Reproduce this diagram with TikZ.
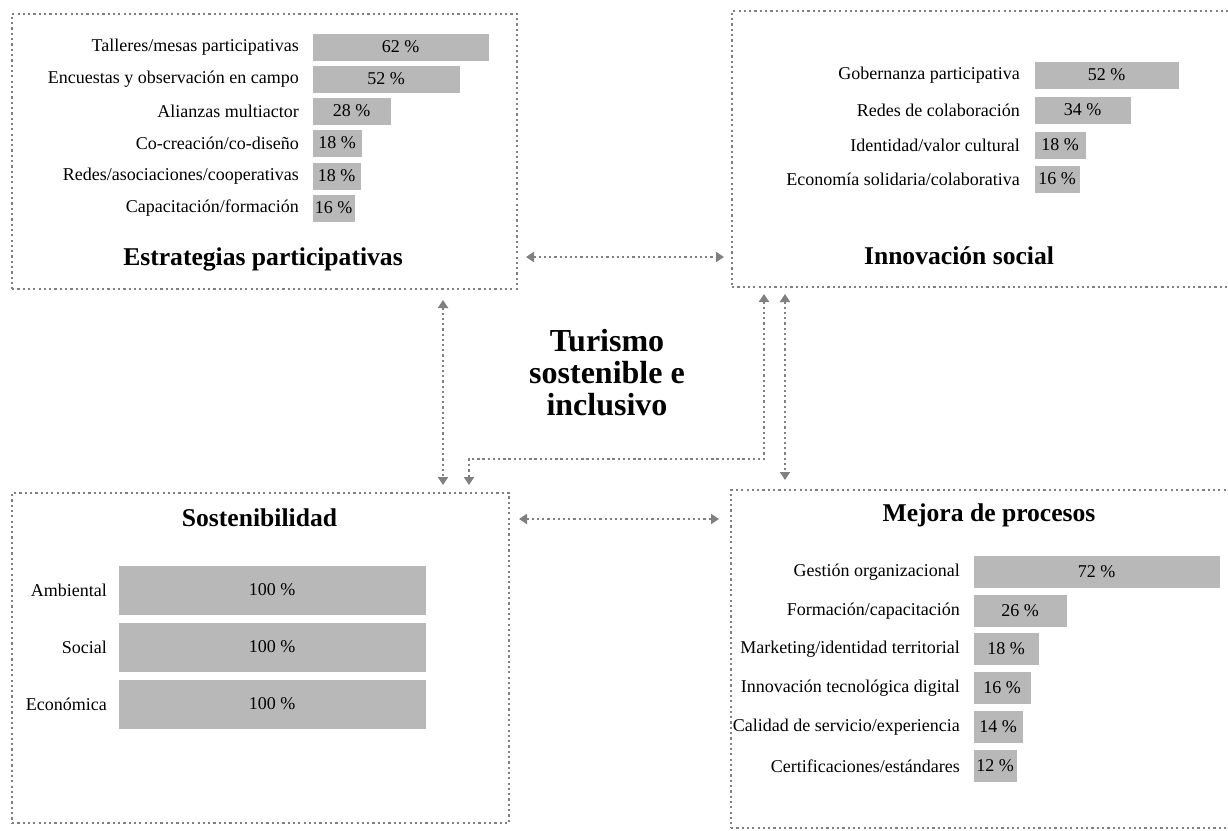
\documentclass[tikz,border=0pt]{standalone}
\usepackage{fontspec}
\setmainfont{Liberation Serif}
\usetikzlibrary{positioning}
\usetikzlibrary{arrows.meta}
\definecolor{bargray}{RGB}{184,184,184}
\definecolor{dotgray}{RGB}{128,128,128}

\begin{document}
\begin{tikzpicture}
  [x=1pt,y=-1pt,
  panel/.style={draw=dotgray,line width=2.2pt,dash pattern=on 2.2pt off 3.1pt,anchor=north west,inner sep=0pt,outer sep=0pt},
  bar/.style={fill=bargray,draw=white,thin,anchor=west,inner sep=0pt,minimum height=#1,font=\fontsize{18}{20}\selectfont},
  lab/.style={inner sep=0pt,font=\fontsize{18}{20}\selectfont},
  heading/.style={anchor=base,inner sep=0pt,font=\bfseries\fontsize{25.6}{28}\selectfont},
  hub/.style={align=center,inner sep=0pt,font=\bfseries\fontsize{32}{32}\selectfont},
  link/.style={draw=dotgray,line width=2.3pt,dash pattern=on 2.3pt off 2.9pt,{Triangle[length=8pt,width=10pt]}-{Triangle[length=8pt,width=10pt]}}]
  \useasboundingbox (0,0) rectangle (1228,830);

  \node[panel,minimum width=505pt,minimum height=275pt] (strat) at (12,14) {};
  \node[panel,minimum width=505pt,minimum height=276pt] (innov) at (732,11) {};
  \node[panel,minimum width=497pt,minimum height=330pt] (sost) at (12,493) {};
  \node[panel,minimum width=505pt,minimum height=338pt] (mejora) at (731,490) {};

  \node[bar=28pt,minimum width=177pt] (s1) at (312,47) {62 \%};
  \node[bar=28pt,minimum width=148pt] (s2) at (312,79) {52 \%};
  \node[bar=28pt,minimum width=79pt] (s3) at (312,111) {28 \%};
  \node[bar=28pt,minimum width=50pt] (s4) at (312,143) {18 \%};
  \node[bar=28pt,minimum width=49pt] (s5) at (312,176) {18 \%};
  \node[bar=28pt,minimum width=43pt] (s6) at (312,208) {16 \%};
  \node[lab,left=13pt of s1] (s1l) {Talleres/mesas participativas};
  \node[lab,left=13pt of s2] (s2l) {Encuestas y observación en campo};
  \node[lab,left=13pt of s3] (s3l) {Alianzas multiactor};
  \node[lab,left=13pt of s4] (s4l) {Co-creación/co-diseño};
  \node[lab,left=13pt of s5] (s5l) {Redes/asociaciones/cooperativas};
  \node[lab,left=13pt of s6] (s6l) {Capacitación/formación};
  \node[heading] (stratT) at (263,265.7) {Estrategias participativas};

  \node[bar=28pt,minimum width=145pt] (i1) at (1034,75) {52 \%};
  \node[bar=28pt,minimum width=97pt] (i2) at (1034,110) {34 \%};
  \node[bar=28pt,minimum width=52pt] (i3) at (1034,145) {18 \%};
  \node[bar=28pt,minimum width=46pt] (i4) at (1034,179) {16 \%};
  \node[lab,left=14pt of i1] (i1l) {Gobernanza participativa};
  \node[lab,left=14pt of i2] (i2l) {Redes de colaboración};
  \node[lab,left=14pt of i3] (i3l) {Identidad/valor cultural};
  \node[lab,left=14pt of i4] (i4l) {Economía solidaria/colaborativa};
  \node[heading] (innovT) at (959,264) {Innovación social};

  \node[heading] (sostT) at (259.5,526.5) {Sostenibilidad};
  \node[bar=50pt,minimum width=308pt] (e1) at (118,590) {100 \%};
  \node[bar=50pt,minimum width=308pt] (e2) at (118,647) {100 \%};
  \node[bar=50pt,minimum width=308pt] (e3) at (118,704) {100 \%};
  \node[lab,left=11pt of e1] (e1l) {Ambiental};
  \node[lab,left=11pt of e2] (e2l) {Social};
  \node[lab,left=11pt of e3] (e3l) {Económica};

  \node[heading] (mejoraT) at (989,521.5) {Mejora de procesos};
  \node[bar=33pt,minimum width=247pt] (m1) at (973,572) {72 \%};
  \node[bar=33pt,minimum width=94pt] (m2) at (973,611) {26 \%};
  \node[bar=33pt,minimum width=66pt] (m3) at (973,649) {18 \%};
  \node[bar=33pt,minimum width=58pt] (m4) at (973,688) {16 \%};
  \node[bar=33pt,minimum width=50pt] (m5) at (973,727) {14 \%};
  \node[bar=33pt,minimum width=44pt] (m6) at (973,766) {12 \%};
  \node[lab,left=13pt of m1] (m1l) {Gestión organizacional};
  \node[lab,left=13pt of m2] (m2l) {Formación/capacitación};
  \node[lab,left=13pt of m3] (m3l) {Marketing/identidad territorial};
  \node[lab,left=13pt of m4] (m4l) {Innovación tecnológica digital};
  \node[lab,left=13pt of m5] (m5l) {Calidad de servicio/experiencia};
  \node[lab,left=13pt of m6] (m6l) {Certificaciones/estándares};

  \node[hub] (hub) at (607,373) {Turismo\\sostenible e\\inclusivo};

  \draw [link,shorten <=9pt,shorten >=8pt] ([yshift=32pt]strat.south east) -- ([yshift=30pt]innov.south west);
  \draw [link,shorten <=10pt,shorten >=12pt] ([yshift=304pt]sost.south east) -- ([yshift=309pt]mejora.south west);
  \draw [link,shorten <=11pt,shorten >=8pt] ([xshift=-74pt]strat.south east) -- ([xshift=-66pt]sost.north east);
  \draw [link,shorten <=7pt,shorten >=8pt] ([xshift=32pt]innov.south west) |- ([xshift=-40pt,yshift=34pt]sost.north east) -- ([xshift=-40pt]sost.north east);
  \draw [link,shorten <=7pt,shorten >=10pt] ([xshift=53pt]innov.south west) -- ([xshift=54pt]mejora.north west);
\end{tikzpicture}
\end{document}
